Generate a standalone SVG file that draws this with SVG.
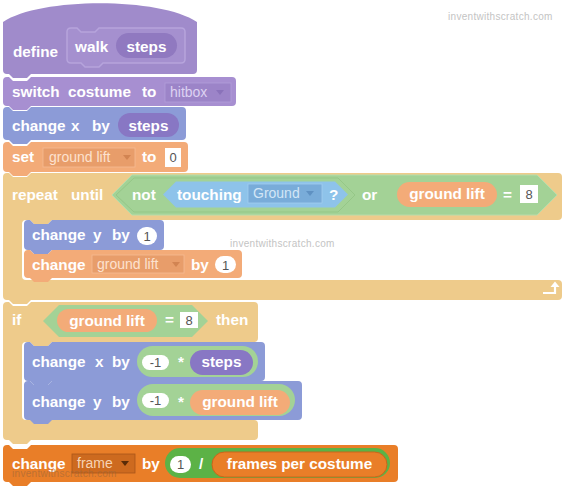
<svg xmlns="http://www.w3.org/2000/svg" width="564" height="488" viewBox="0 0 564 488">
<style>
.t{font-family:"Liberation Sans",Arial,sans-serif;font-weight:bold;font-size:15.3px;fill:#fff}
.d{font-family:"Liberation Sans",Arial,sans-serif;font-size:14px}
.n{font-family:"Liberation Sans",Arial,sans-serif;font-size:13px;fill:#555}
.w{font-family:"Liberation Sans",Arial,sans-serif;font-size:10px;fill:#c4c4c4;letter-spacing:0.3px}
.mid{text-anchor:middle}
</style>
<rect width="564" height="488" fill="#fff"/>

<g id="define">
<path d="M3,22 C40,-3 160,-3 197,22 V70 Q197,74 193,74 H31 l-4,4 h-14 l-4,-4 H7 Q3,74 3,70 Z" fill="#a08bcb"/>
<path d="M71,28 H77 l4,4 h14 l4,-4 H181 Q185,28 185,32 V59 Q185,63 181,63 H103 l-4,4 h-14 l-4,-4 H71 Q67,63 67,59 V32 Q67,28 71,28 Z" fill="#a590cf" stroke="#b6a4dc" stroke-width="1.5"/>
<rect x="116" y="33" width="61" height="25" rx="12.5" fill="#9079c0"/>
<text class="t" x="13" y="57">define</text>
<text class="t" x="75" y="52">walk</text>
<text class="t mid" x="146.5" y="52">steps</text>
</g>

<g id="switch-costume">
<path d="M3,81 Q3,77 7,77 H9 l4,4 h14 l4,-4 H232 Q236,77 236,81 V102 Q236,106 232,106 H31 l-4,4 h-14 l-4,-4 H7 Q3,106 3,102 Z" fill="#a78fd1"/>
<rect x="165" y="83" width="66" height="19" fill="#9c84c8" stroke="#b29fda" stroke-width="0.8"/>
<text class="d" x="170" y="97" fill="#ddd2f2">hitbox</text>
<path d="M216,90 h8 l-4,5 z" fill="#8a72ba"/>
<text class="t" x="12" y="97">switch<tspan x="68">costume</tspan><tspan x="142">to</tspan></text>
</g>

<g id="change-x">
<path d="M3,111 Q3,107 7,107 H9 l4,4 h14 l4,-4 H182 Q186,107 186,111 V136 Q186,140 182,140 H31 l-4,4 h-14 l-4,-4 H7 Q3,140 3,136 Z" fill="#8c9bd7"/>
<rect x="118" y="113" width="61" height="24" rx="12" fill="#8877c4"/>
<text class="t" x="12" y="131">change<tspan x="71">x</tspan><tspan x="92">by</tspan></text>
<text class="t mid" x="148.5" y="131">steps</text>
</g>

<g id="set-var">
<path d="M3,146 Q3,142 7,142 H9 l4,4 h14 l4,-4 H184 Q188,142 188,146 V168 Q188,172 184,172 H31 l-4,4 h-14 l-4,-4 H7 Q3,172 3,168 Z" fill="#f3ab78"/>
<rect x="43" y="148" width="92" height="19" fill="#e89d6a" stroke="#f6bb93" stroke-width="0.8"/>
<text class="d" x="49" y="162" fill="#fde2cf">ground lift</text>
<path d="M123,155 h8 l-4,5 z" fill="#d28452"/>
<rect x="165" y="148" width="16" height="19" fill="#fff"/>
<text class="n mid" x="173" y="162">0</text>
<text class="t" x="12" y="162">set<tspan x="142">to</tspan></text>
</g>

<g id="repeat-until">
<path d="M3,177 Q3,173 7,173 H9 l4,4 h14 l4,-4 H558 Q562,173 562,177 V216 Q562,220 558,220 H52 l-4,4 h-14 l-4,-4 H26 Q22,220 22,224 V276 Q22,280 26,280 H558 Q562,280 562,284 V296 Q562,300 558,300 H31 l-4,4 h-14 l-4,-4 H7 Q3,300 3,296 Z" fill="#eecb8b"/>
<path d="M112,195 L132,175 H537 L557,195 L537,215 H132 Z" fill="#a3d296" stroke="#b6ddab" stroke-width="1"/>
<path d="M116,195 L134,178 H338 L355,195 L338,212 H134 Z" fill="#a3d296" stroke="#95c787" stroke-width="1"/>
<path d="M163,194.5 L176,181.5 H335 L348,194.5 L335,207.5 H176 Z" fill="#8ec3ea"/>
<rect x="248" y="184" width="74" height="19" fill="#79acd9" stroke="#a2cdef" stroke-width="0.8"/>
<text class="d" x="253" y="198" fill="#d3e6f6">Ground</text>
<path d="M306,191 h8 l-4,5 z" fill="#5f91c2"/>
<rect x="397" y="182" width="100" height="25" rx="12.5" fill="#f3ab78"/>
<rect x="520" y="185" width="18" height="18" fill="#fff"/>
<text class="n mid" x="529" y="199">8</text>
<text class="t" x="12" y="200">repeat<tspan x="71">until</tspan><tspan x="132">not</tspan><tspan x="177">touching</tspan><tspan x="329">?</tspan><tspan x="362">or</tspan><tspan x="503">=</tspan></text>
<text class="t mid" x="447" y="199">ground lift</text>
<path d="M543,293 H555 V286" fill="none" stroke="#fff" stroke-width="2.2"/>
<path d="M550.5,287 L555,281.5 L559.5,287 Z" fill="#fff"/>
</g>

<g id="change-y-1">
<path d="M24,224 Q24,220 28,220 H30 l4,4 h14 l4,-4 H160 Q164,220 164,224 V246 Q164,250 160,250 H52 l-4,4 h-14 l-4,-4 H28 Q24,250 24,246 Z" fill="#8c9bd7"/>
<rect x="137" y="227" width="20" height="18" rx="9" fill="#fff"/>
<text class="n mid" x="147" y="241">1</text>
<text class="t" x="32" y="240">change<tspan x="93">y</tspan><tspan x="112">by</tspan></text>
</g>

<g id="change-var-1">
<path d="M24,254 Q24,250 28,250 H30 l4,4 h14 l4,-4 H238 Q242,250 242,254 V274 Q242,278 238,278 H52 l-4,4 h-14 l-4,-4 H28 Q24,278 24,274 Z" fill="#f3ab78"/>
<rect x="92" y="255" width="92" height="18" fill="#e89d6a" stroke="#f6bb93" stroke-width="0.8"/>
<text class="d" x="97" y="269" fill="#fde2cf">ground lift</text>
<path d="M172,262 h8 l-4,5 z" fill="#d28452"/>
<rect x="215" y="256" width="21" height="17" rx="8.5" fill="#fff"/>
<text class="n mid" x="225.5" y="269.5">1</text>
<text class="t" x="32" y="270">change<tspan x="191">by</tspan></text>
</g>

<g id="if-then">
<path d="M3,306 Q3,302 7,302 H9 l4,4 h14 l4,-4 H254 Q258,302 258,306 V338 Q258,342 254,342 H52 l-4,4 h-14 l-4,-4 H26 Q22,342 22,346 V416 Q22,420 26,420 H254 Q258,420 258,424 V436 Q258,440 254,440 H31 l-4,4 h-14 l-4,-4 H7 Q3,440 3,436 Z" fill="#eecb8b"/>
<path d="M43,321 L59,305 H192 L208,321 L192,337 H59 Z" fill="#a3d296"/>
<rect x="57" y="309" width="100" height="23" rx="11.5" fill="#f3ab78"/>
<rect x="180" y="312" width="18" height="16" fill="#fff"/>
<text class="n mid" x="189" y="325">8</text>
<text class="t mid" x="107" y="326">ground lift</text>
<text class="t" x="12" y="325">if<tspan x="165">=</tspan><tspan x="216">then</tspan></text>
</g>

<g id="change-x-neg">
<path d="M24,346 Q24,342 28,342 H30 l4,4 h14 l4,-4 H261 Q265,342 265,346 V377 Q265,381 261,381 H52 l-4,4 h-14 l-4,-4 H28 Q24,381 24,377 Z" fill="#8c9bd7"/>
<rect x="137" y="346" width="121" height="31" rx="15.5" fill="#a3d296"/>
<rect x="142" y="355" width="27" height="15" rx="7.5" fill="#fff"/>
<text class="n mid" x="155.5" y="367">-1</text>
<rect x="190" y="350" width="63" height="25" rx="12.5" fill="#8877c4"/>
<text class="t mid" x="221.5" y="367">steps</text>
<text class="t" x="32" y="367">change<tspan x="95">x</tspan><tspan x="112">by</tspan><tspan x="178">*</tspan></text>
</g>

<g id="change-y-neg">
<path d="M24,385 Q24,381 28,381 H30 l4,4 h14 l4,-4 H298 Q302,381 302,385 V416 Q302,420 298,420 H52 l-4,4 h-14 l-4,-4 H28 Q24,420 24,416 Z" fill="#8c9bd7"/>
<rect x="137" y="384" width="158" height="32" rx="16" fill="#a3d296"/>
<rect x="142" y="393" width="27" height="15" rx="7.5" fill="#fff"/>
<text class="n mid" x="155.5" y="405">-1</text>
<rect x="190" y="390" width="100" height="25" rx="12.5" fill="#f3ab78"/>
<text class="t mid" x="240" y="407">ground lift</text>
<text class="t" x="32" y="407">change<tspan x="93">y</tspan><tspan x="112">by</tspan><tspan x="178">*</tspan></text>
</g>

<g id="change-frame">
<path d="M3,449 Q3,445 7,445 H9 l4,4 h14 l4,-4 H394 Q398,445 398,449 V478 Q398,482 394,482 H31 l-4,4 h-14 l-4,-4 H7 Q3,482 3,478 Z" fill="#e97e28"/>
<rect x="72" y="454" width="63" height="19" fill="#cd6a1f" stroke="#a9561a" stroke-width="0.8"/>
<text class="d" x="77" y="468" fill="#f6d3b4">frame</text>
<path d="M121,461 h8 l-4,5 z" fill="#5a2c08"/>
<rect x="165" y="448" width="225" height="30" rx="15" fill="#5cb246"/>
<rect x="170" y="456" width="21" height="17" rx="8.5" fill="#fff"/>
<text class="n mid" x="180.5" y="469">1</text>
<rect x="212" y="452" width="175" height="25" rx="12.5" fill="#e97e28" stroke="#c9661a" stroke-width="1"/>
<text class="t mid" x="299.5" y="469">frames per costume</text>
<text class="t" x="12" y="469">change<tspan x="142">by</tspan><tspan x="199">/</tspan></text>
</g>

<g id="watermarks">
<text class="w" x="448" y="20">inventwithscratch.com</text>
<text class="w" x="230" y="247">inventwithscratch.com</text>
<text class="w" x="12" y="477" style="fill:#a0683a;opacity:0.6">inventwithscratch.com</text>
</g>
</svg>
